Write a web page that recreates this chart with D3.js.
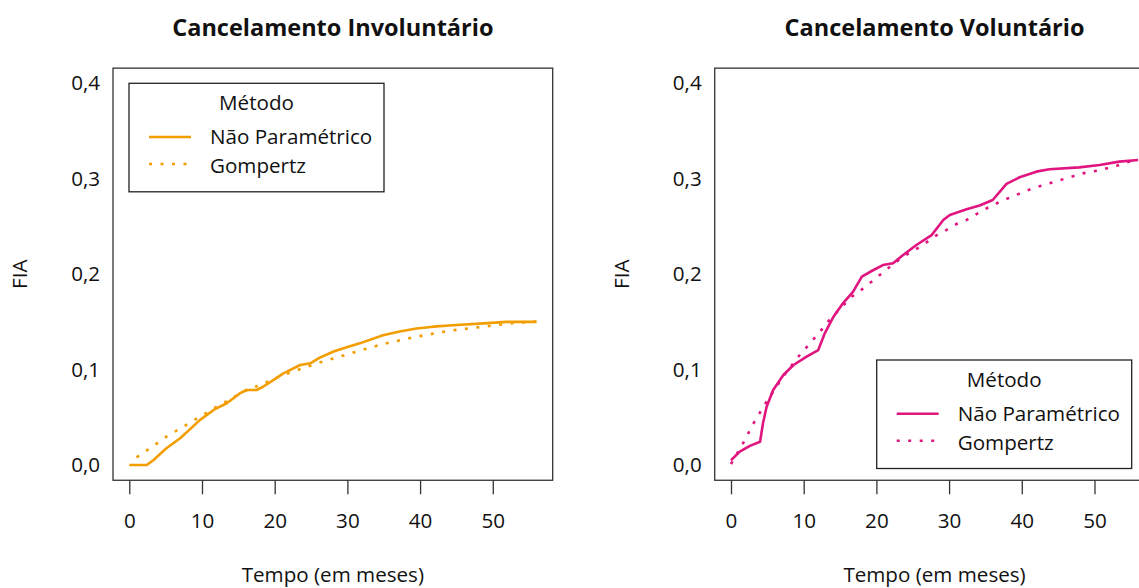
<!DOCTYPE html>
<html>
<head>
<meta charset="utf-8">
<script src="https://cdn.jsdelivr.net/npm/d3@7"></script>
<style>
  html, body { margin: 0; padding: 0; background: #fff; }
  svg { display: block; }
  text { font-family: "Open Sans", Lato, sans-serif; fill: #111; }
</style>
</head>
<body>
<svg id="chart" width="1139" height="588"></svg>
<script>
// Cumulative incidence (FIA) by month, two causes of cancellation
const xTicks = [0, 10, 20, 30, 40, 50];
const yTicks = [0, 0.1, 0.2, 0.3, 0.4];
const legendLabels = ["Não Paramétrico", "Gompertz"];

// Involuntary cancellation: non-parametric estimate
const tempoInvNP = [0, 2.4, 3.3, 5.1, 7.0, 9.7, 11.6, 13.4, 15.2, 16.1, 17.5, 18.4, 19.8, 21.2, 23.5, 24.9, 26.2, 28.1, 29.9, 31.7, 34.9, 37.2, 39.5, 41.8, 45.0, 48.7, 51.9, 56];
const fiaInvNP   = [0, 0, 0.005, 0.0175, 0.028, 0.047, 0.0577, 0.0647, 0.075, 0.0786, 0.0786, 0.082, 0.089, 0.096, 0.1048, 0.1066, 0.1125, 0.119, 0.1234, 0.1275, 0.136, 0.14, 0.143, 0.145, 0.1468, 0.1485, 0.15, 0.15];
// Involuntary cancellation: Gompertz fit
const tempoInvGo = [1, 2.85, 5.1, 7.4, 9.7, 12.0, 15.7, 21.2, 25.8, 30.4, 34.9, 39.5, 44.1, 48.7, 53.3, 56];
const fiaInvGo   = [0.008, 0.0175, 0.0297, 0.040, 0.0506, 0.061, 0.0768, 0.0943, 0.1066, 0.117, 0.1268, 0.1345, 0.1408, 0.145, 0.1492, 0.1505];

// Voluntary cancellation: non-parametric estimate
const tempoVolNP = [0, 1.2, 2.6, 4.0, 4.4, 4.9, 5.8, 7.2, 8.6, 10.4, 12.0, 12.9, 14.1, 15.4, 16.8, 18.0, 19.6, 20.9, 22.3, 23.5, 25.5, 27.6, 29.2, 30.1, 32.4, 34.2, 36.0, 37.9, 39.7, 42.0, 43.8, 47.9, 50.7, 53.4, 56];
const fiaVolNP   = [0.005, 0.014, 0.020, 0.0244, 0.0437, 0.061, 0.0786, 0.0943, 0.1048, 0.1135, 0.1205, 0.138, 0.1555, 0.1695, 0.1817, 0.1974, 0.2044, 0.2096, 0.2114, 0.219, 0.2306, 0.241, 0.2568, 0.262, 0.268, 0.272, 0.2778, 0.2946, 0.3016, 0.3075, 0.31, 0.312, 0.3145, 0.318, 0.3197];
// Voluntary cancellation: Gompertz fit
const tempoVolGo = [0, 1.7, 3.1, 4.8, 7.2, 9.55, 10.7, 11.7, 12.7, 13.6, 16.6, 17.6, 18.6, 19.9, 21.2, 23.5, 26.0, 27.2, 28.3, 29.6, 31.0, 32.4, 34.7, 37.0, 39.2, 41.5, 43.8, 46.1, 48.4, 50.7, 53.0, 54.8, 56];
const fiaVolGo   = [0.001, 0.0234, 0.0437, 0.0653, 0.093, 0.1163, 0.126, 0.135, 0.144, 0.1527, 0.1764, 0.1817, 0.1876, 0.1957, 0.2037, 0.2175, 0.2288, 0.235, 0.241, 0.2463, 0.2526, 0.2568, 0.2673, 0.276, 0.283, 0.29, 0.2953, 0.3005, 0.3057, 0.309, 0.3134, 0.318, 0.3205];

const svg = d3.select("#chart");
svg.append("rect").attr("width", 1139).attr("height", 588).attr("fill", "#fff");

const zip = (xs, ys) => xs.map((x, i) => [x, ys[i]]);
const FONT = "'Open Sans', Lato, sans-serif";
const FS = 20.6;

function panel(cfg) {
  const g = svg.append("g").attr("transform", `translate(${cfg.dx},0)`);
  const x = d3.scaleLinear().domain([0, 56]).range([129.3, 536.4]);
  const y = d3.scaleLinear().domain([0, 0.4]).range([465, 83.4]);
  // plotting region padded by 4% on each side
  const x0 = x(-0.04 * 56), x1 = x(56 * 1.04);
  const y0 = y(-0.016), y1 = y(0.416);

  g.append("text").attr("x", (x0 + x1) / 2).attr("y", 36)
    .attr("text-anchor", "middle").attr("font-weight", "bold").attr("font-size", 23.5)
    .text(cfg.title);

  const line = d3.line().x(d => x(d[0])).y(d => y(d[1]));
  g.append("path").attr("d", line(zip(cfg.tNP, cfg.vNP)))
    .attr("fill", "none").attr("stroke", cfg.color).attr("stroke-width", 2.6)
    .attr("stroke-linejoin", "round");
  g.append("path").attr("d", line(zip(cfg.tGo, cfg.vGo)))
    .attr("fill", "none").attr("stroke", cfg.color).attr("stroke-width", 2.6)
    .attr("stroke-dasharray", "3,8.5");

  g.append("rect").attr("x", x0).attr("y", y1).attr("width", x1 - x0).attr("height", y0 - y1)
    .attr("fill", "none").attr("stroke", "#333").attr("stroke-width", 1.3);

  // bottom axis: ticks + labels
  const xa = g.append("g").attr("transform", `translate(0,${y0})`)
    .call(d3.axisBottom(x).tickValues(xTicks).tickSize(14).tickPadding(19).tickFormat(d3.format("d")));
  xa.select(".domain").remove();
  xa.selectAll(".tick line").attr("stroke", "#333").attr("stroke-width", 1.3);
  xa.selectAll(".tick text").attr("font-size", FS).attr("fill", "#111").attr("font-family", FONT);

  // left axis: labels only
  const ya = g.append("g").attr("transform", `translate(${x0},0)`)
    .call(d3.axisLeft(y).tickValues(yTicks).tickSize(0).tickPadding(13)
      .tickFormat(d => d3.format(".1f")(d).replace(".", ",")));
  ya.select(".domain").remove();
  ya.selectAll(".tick text").attr("font-size", FS).attr("fill", "#111").attr("font-family", FONT);

  g.append("text").attr("x", (x0 + x1) / 2).attr("y", 582)
    .attr("text-anchor", "middle").attr("font-size", FS).text("Tempo (em meses)");
  g.append("text").attr("transform", `translate(27,${(y0 + y1) / 2}) rotate(-90)`)
    .attr("text-anchor", "middle").attr("font-size", FS).text("FIA");

  // legend
  const lg = g.append("g").attr("transform", `translate(${cfg.legX},${cfg.legY})`);
  lg.append("rect").attr("width", 255).attr("height", 108.5)
    .attr("fill", "#fff").attr("stroke", "#222").attr("stroke-width", 1.3);
  lg.append("text").attr("x", 127.5).attr("y", 27).attr("text-anchor", "middle")
    .attr("font-size", FS).text("Método");
  legendLabels.forEach((lab, i) => {
    const ly = i === 0 ? 53.7 : 80.7;
    lg.append("line").attr("x1", 20).attr("x2", 62).attr("y1", ly).attr("y2", ly)
      .attr("stroke", cfg.color).attr("stroke-width", 2.6)
      .attr("stroke-dasharray", i === 0 ? null : "3,8.5");
    lg.append("text").attr("x", 81).attr("y", ly + 7 + i * 2)
      .attr("font-size", FS).text(lab);
  });
}

panel({
  dx: 0, title: "Cancelamento Involuntário", color: "#F29D00",
  tNP: tempoInvNP, vNP: fiaInvNP, tGo: tempoInvGo, vGo: fiaInvGo,
  legX: 129, legY: 83.3
});
panel({
  dx: 601.7, title: "Cancelamento Voluntário", color: "#E0157F",
  tNP: tempoVolNP, vNP: fiaVolNP, tGo: tempoVolGo, vGo: fiaVolGo,
  legX: 876.7 - 601.7, legY: 360
});
</script>
</body>
</html>
